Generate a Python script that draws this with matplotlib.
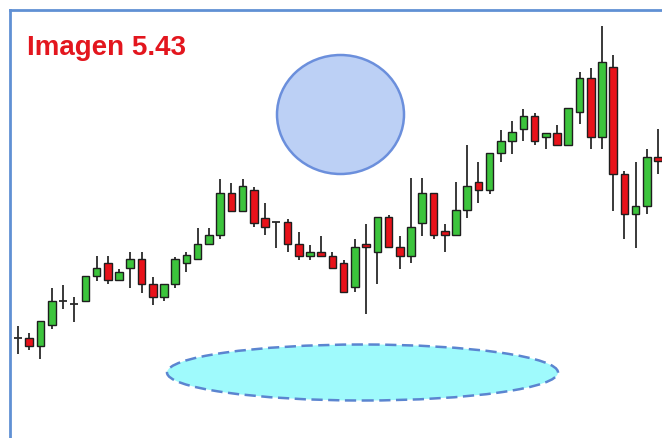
import matplotlib
matplotlib.use("Agg")
import numpy as np
import matplotlib.pyplot as plt
from matplotlib.patches import Ellipse

# -----------------------------
# OHLC data
# -----------------------------
opens = [100, 100, 92, 113, 137, 134, 137, 162, 175, 158, 170, 179, 154, 141, 154,
         175, 179, 194, 203, 245, 227, 248, 220, 216, 216, 194, 182, 186, 182, 175,
         151, 194, 186, 221, 191, 182, 215, 245, 207, 203, 228, 256, 248, 285, 297,
         309, 322, 301, 305, 293, 326, 360, 301, 371, 264, 224, 232, 281]
closes = [100, 92, 117, 137, 137, 134, 162, 170, 158, 166, 179, 154, 141, 154, 179,
          183, 194, 203, 245, 227, 252, 215, 211, 216, 194, 182, 186, 182, 170, 146,
          191, 191, 221, 191, 182, 211, 245, 203, 203, 228, 252, 248, 285, 297, 306,
          322, 297, 305, 293, 330, 360, 301, 376, 264, 224, 232, 281, 277]
highs = [112, 105, 117, 150, 153, 141, 162, 182, 182, 169, 186, 186, 161, 154, 181,
         186, 210, 210, 259, 255, 259, 251, 235, 216, 219, 206, 193, 202, 186, 178,
         199, 214, 221, 223, 202, 260, 260, 245, 214, 256, 293, 276, 285, 308, 317,
         329, 325, 305, 313, 330, 366, 370, 412, 383, 267, 276, 289, 309]
lows = [84, 88, 79, 109, 129, 116, 137, 157, 154, 158, 150, 145, 133, 137, 150,
        166, 179, 194, 199, 227, 227, 211, 203, 190, 186, 178, 178, 182, 170, 146,
        146, 124, 154, 191, 169, 175, 202, 199, 186, 203, 220, 235, 244, 276, 284,
        297, 293, 289, 293, 293, 314, 289, 289, 227, 199, 190, 224, 264]

TITLE = "Imagen 5.43"

GREEN = "#3cc43c"
RED = "#e8121a"
FRAME = "#6090d4"

# -----------------------------
# figure
# -----------------------------
W, H = 662, 439
fig = plt.figure(figsize=(W / 100, H / 100), dpi=100)
ax = fig.add_axes([10 / W, 0, 1 - 10 / W, 1 - 11 / H])

o = np.array(opens, dtype=float)
c = np.array(closes, dtype=float)
hi = np.array(highs, dtype=float)
lo = np.array(lows, dtype=float)
x = np.arange(len(o))

# wicks
ax.vlines(x, lo, hi, color="#2a2a2a", linewidth=1.3, zorder=2)

# bodies
up = c > o
down = c < o
flat = c == o
bw = 0.68
ax.bar(x[up], (c - o)[up], bottom=o[up], width=bw, color=GREEN,
       edgecolor="#1e1e1e", linewidth=1.0, zorder=3)
ax.bar(x[down], (o - c)[down], bottom=c[down], width=bw, color=RED,
       edgecolor="#1e1e1e", linewidth=1.0, zorder=3)
ax.hlines(o[flat], x[flat] - bw / 2, x[flat] + bw / 2, color="#2a2a2a",
          linewidth=1.3, zorder=3)

# pixel-like scale: one candle = 11.23 px
step = 11.23
ax.set_xlim((10 - 18) / step, (W - 18) / step)
ax.set_ylim(0, H - 11)

# highlight shapes
circ = Ellipse(((340.5 - 18) / step, H - 115.5), 127 / step, 119,
               facecolor="#bcd0f5", edgecolor="#6b8fdc", linewidth=1.8, zorder=4)
ax.add_patch(circ)
oval = Ellipse(((362.5 - 18) / step, H - 373.5), 391 / step, 56,
               facecolor="#9ffafc", edgecolor="#5b85d0", linewidth=1.8,
               linestyle=(0, (4.5, 2.2)), zorder=4)
ax.add_patch(oval)

ax.set_xticks([])
ax.set_yticks([])
for s in ["right", "bottom"]:
    ax.spines[s].set_visible(False)
for s in ["left", "top"]:
    ax.spines[s].set_color(FRAME)
    ax.spines[s].set_linewidth(2.0)

fig.text(27 / W, 1 - 55 / H, TITLE, color="#e3161e", fontsize=20,
         fontweight="bold", family="Liberation Sans", va="baseline", ha="left")

fig.savefig("out.png", dpi=100)
